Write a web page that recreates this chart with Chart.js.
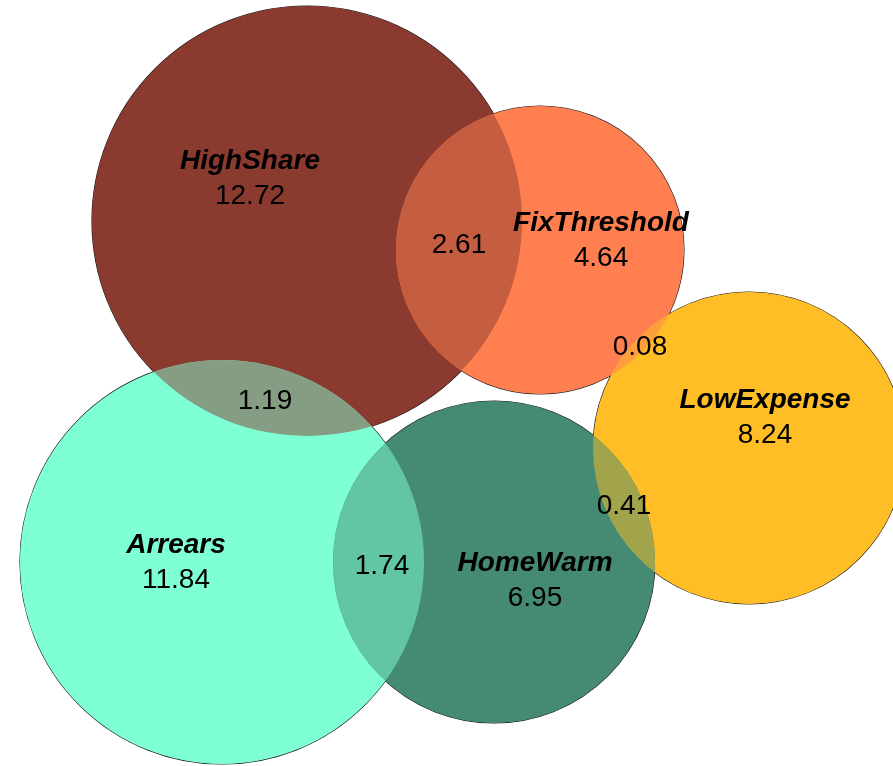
<!DOCTYPE html>
<html>
<head>
<meta charset="utf-8">
<title>Euler</title>
<script src="https://cdn.jsdelivr.net/npm/chart.js@4.4.1/dist/chart.umd.min.js"></script>
<style>
  html, body { margin: 0; padding: 0; background: #ffffff; }
  #wrap { width: 893px; height: 766px; }
</style>
</head>
<body>
<div id="wrap"><canvas id="eulerChart" width="893" height="766"></canvas></div>
<script>
// Conjuntos del diagrama
const setNames = ['HighShare', 'FixThreshold', 'LowExpense', 'Arrears', 'HomeWarm'];
const setValues = [12.72, 4.64, 8.24, 11.84, 6.95];
const centerX = [307, 540, 749, 222, 494];
const centerY = [221, 250, 448, 562, 562];
const radii = [215, 144, 156, 202, 161];
const labelX = [250, 601, 765, 176, 535];
const labelY = [161, 223, 400, 545, 563];

// Intersecciones (pares de conjuntos)
const overlapPairs = [[0, 1], [0, 3], [1, 2], [3, 4], [4, 2]];
const overlapValues = [2.61, 1.19, 0.08, 1.74, 0.41];
const overlapX = [459, 265, 640, 382, 624];
const overlapY = [245, 401, 347, 566, 506];

const fills = [[139, 58, 47], [255, 127, 80], [255, 190, 38], [127, 255, 212], [69, 138, 114]];

function rgb(c) { return `rgb(${c[0]}, ${c[1]}, ${c[2]})`; }
function mix(a, b) { return [0, 1, 2].map(i => Math.round((a[i] + b[i]) / 2)); }

// Radio en píxeles a partir de la escala x
function pixelRadius(ctx) {
    const s = ctx.chart.scales.x;
    const size = ctx.raw ? ctx.raw.size : radii[ctx.dataIndex];
    const r = Math.abs(s.getPixelForValue(size) - s.getPixelForValue(0));
    return isFinite(r) ? r : 0;
}

function makePoints() {
    return setNames.map((n, i) => ({ x: centerX[i], y: centerY[i], size: radii[i] }));
}

// Rellena las zonas de solapamiento con el color mezclado
const overlapPlugin = {
    id: 'overlaps',
    afterDatasetDraw(chart, args) {
        if (args.index !== 0) return;
        const ctx = chart.ctx;
        const els = chart.getDatasetMeta(0).data;
        const area = chart.chartArea;
        overlapPairs.forEach(([a, b]) => {
            const ea = els[a], eb = els[b];
            ctx.save();
            ctx.beginPath();
            ctx.rect(area.left, area.top, area.right - area.left, area.bottom - area.top);
            ctx.clip();
            ctx.beginPath();
            ctx.arc(ea.x, ea.y, ea.options.radius, 0, Math.PI * 2);
            ctx.clip();
            ctx.beginPath();
            ctx.arc(eb.x, eb.y, eb.options.radius, 0, Math.PI * 2);
            ctx.fillStyle = rgb(mix(fills[a], fills[b]));
            ctx.fill();
            ctx.restore();
        });
    }
};

// Etiquetas de texto
const labelPlugin = {
    id: 'labels',
    afterDraw(chart) {
        const ctx = chart.ctx;
        const sx = chart.scales.x, sy = chart.scales.y;
        ctx.save();
        ctx.fillStyle = '#000000';
        ctx.textAlign = 'center';
        ctx.textBaseline = 'middle';
        setNames.forEach((name, i) => {
            const px = sx.getPixelForValue(labelX[i]);
            const py = sy.getPixelForValue(labelY[i]);
            ctx.font = 'italic bold 28px "Liberation Sans", Arial, sans-serif';
            ctx.fillText(name, px, py);
            ctx.font = '28px "Liberation Sans", Arial, sans-serif';
            ctx.fillText(setValues[i].toFixed(2), px, py + 35);
        });
        ctx.font = '28px "Liberation Sans", Arial, sans-serif';
        overlapValues.forEach((v, i) => {
            ctx.fillText(v.toFixed(2), sx.getPixelForValue(overlapX[i]), sy.getPixelForValue(overlapY[i]));
        });
        ctx.restore();
    }
};

const chart = new Chart(document.getElementById('eulerChart').getContext('2d'), {
    type: 'bubble',
    data: {
        datasets: [{
            data: makePoints(),
            backgroundColor: fills.map(rgb),
            borderWidth: 0,
            radius: pixelRadius
        }, {
            data: makePoints(),
            backgroundColor: 'rgba(0, 0, 0, 0)',
            borderColor: '#1a1a1a',
            borderWidth: 1.2,
            radius: pixelRadius
        }]
    },
    options: {
        responsive: false,
        animation: false,
        events: [],
        layout: { padding: 0, autoPadding: false },
        plugins: { legend: { display: false }, tooltip: { enabled: false } },
        scales: {
            x: { type: 'linear', min: 0, max: 893, display: false },
            y: { type: 'linear', min: 0, max: 766, reverse: true, display: false }
        }
    },
    plugins: [overlapPlugin, labelPlugin]
});

// El radio se fija al parsear los datos, cuando las escalas aún no tienen tamaño:
// se vuelven a parsear una vez que ya están colocadas
chart.data.datasets.forEach(ds => { ds.data = makePoints(); });
chart.update();
</script>
</body>
</html>
